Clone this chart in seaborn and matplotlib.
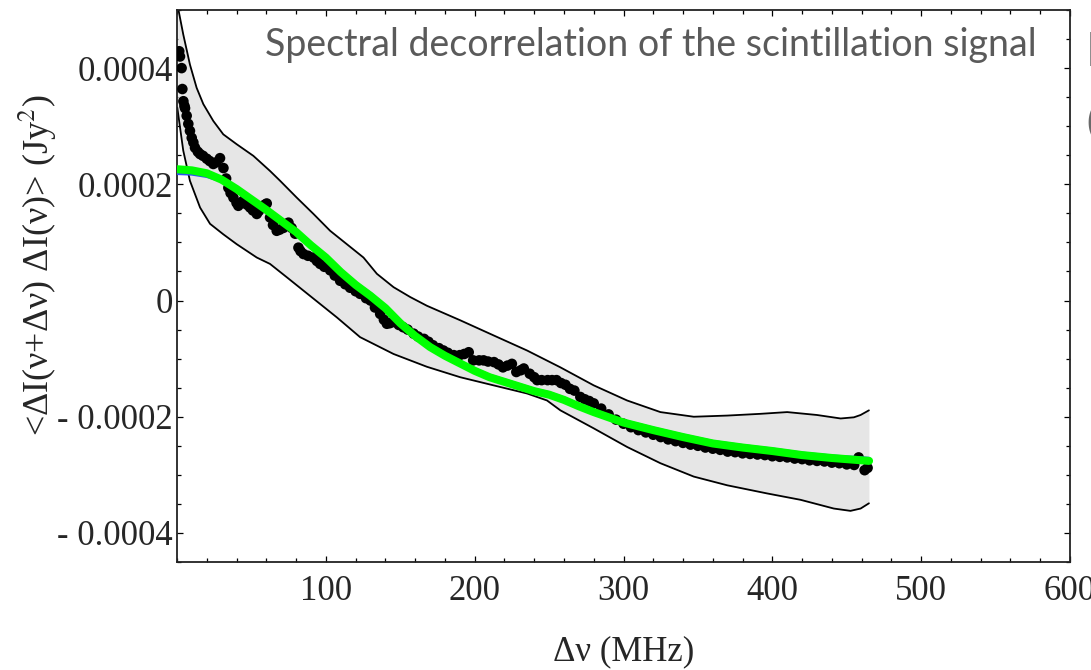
import numpy as np
import pandas as pd
import matplotlib
matplotlib.use("Agg")
import matplotlib.pyplot as plt
import seaborn as sns
from matplotlib.ticker import FixedLocator, MultipleLocator

# ---------------- data ----------------
dots_x = [1.5, 2.0, 3.1, 3.6, 4.3, 5.0, 5.4, 6.5, 7.6, 8.7, 9.9, 11, 12.1, 14, 15.5, 17.5, 20, 22,
          24.4, 26.5, 28.9, 31.2, 33, 34.5, 36, 37.9, 40, 41.2, 43, 44.6, 47, 49.1, 51, 53.6, 55, 57,
          59, 60.3, 62.5, 64.5, 67, 69, 71.5, 73, 74.9, 77, 79.4, 81.6, 83, 85, 88, 91.7, 94, 96.2,
          99, 102.9, 106, 109.6, 113, 116.3, 120, 123, 127, 130, 133, 136.5, 139, 141, 143, 145.5,
          149, 152, 155, 159, 162, 166, 169, 172, 176, 179, 182, 186, 190, 193, 196, 199, 203, 206,
          209, 213, 216, 219, 222, 225, 228, 231, 233, 237, 240, 242, 245, 249, 252, 255, 258, 261,
          264, 267, 271, 274, 277, 280, 285, 290, 295, 300, 305, 310, 315, 320, 325, 330, 335, 340,
          345, 350, 355, 360, 365, 370, 375, 380, 385, 390, 395, 400, 405, 410, 415, 420, 425, 430,
          435, 440, 445, 450, 455, 458, 462, 464]
dots_y_e6 = [429, 420, 400, 364, 343, 335, 331, 318, 304, 292, 280, 272, 263, 256, 252, 249, 244, 240,
             235, 238, 245, 228, 210, 194, 185, 177, 168, 163, 168, 172, 165, 160, 155, 149, 154, 160,
             165, 167, 143, 130, 120, 122, 125, 130, 134, 125, 115, 91, 85, 80, 77, 74, 68, 63,
             58, 52, 43, 34, 28, 22, 16, 11.5, 4, 0, -12, -23, -33, -40, -39, -37,
             -42, -46, -50, -57, -62, -66, -71, -77, -82, -86, -90, -94, -94, -92, -89, -103, -103, -103,
             -105, -106, -110, -115, -112, -109, -123, -120, -117, -126, -132, -137, -137, -137, -137, -137, -142, -145,
             -152, -155, -166, -170, -173, -177, -186, -196, -205, -212, -218, -223, -227, -231, -235, -239, -242, -245,
             -248, -250, -253, -255, -257, -260, -261, -263, -264, -265, -266, -268, -269, -270, -272, -273, -275, -276,
             -277, -279, -280, -282, -283, -270, -292, -288]

band_up_x = [0.5, 1.0, 4.2, 8.7, 13.2, 17.7, 24.4, 31.1, 40.1, 51.3, 62.5, 69.3, 80.5, 91.7, 102.9,
             114.1, 125.3, 134.3, 145.5, 156.7, 167.9, 190.3, 212.7, 235.2, 257.6, 280, 302.4, 324.8,
             347.2, 369.7, 392, 410, 430, 445.9, 454.8, 459.3, 464.9]
band_up_e6 = [520, 500, 458, 406, 366, 338, 309, 286, 269, 249, 223, 206, 177, 149, 120,
              97, 74, 46, 23, 6, -9, -34, -60, -86, -115, -146, -172, -192,
              -200, -198, -195, -192, -197, -203, -201, -197, -189]

band_lo_x = [0.2, 4.2, 8.7, 15.5, 22.2, 31.1, 40.1, 53.6, 62.5, 73.8, 85, 96.2, 107.4, 123, 145.5,
             167.9, 190.3, 212.7, 235.2, 248.6, 257.6, 280, 302.4, 324.8, 347.2, 369.7, 396.5, 419,
             441.3, 452.5, 459.3, 464.9]
band_lo_e6 = [332, 258, 206, 160, 132, 114, 97, 74, 63, 40, 17, -6, -29, -63, -92,
              -114, -132, -146, -160, -172, -189, -220, -252, -280, -303, -318, -332, -343,
              -358, -362, -358, -349]

fit_x = [0, 10, 20, 30, 40, 50, 60, 70, 80, 90, 100, 110, 120, 130, 140, 150, 160, 170, 180, 190,
         200, 210, 220, 230, 240, 250, 260, 270, 280, 300, 320, 340, 360, 380, 400, 420, 440, 465]
green_e6 = [226, 224, 219, 208, 192, 174, 156, 137, 118, 95, 74, 49, 27, 8, -13, -39, -61, -80, -95, -108,
            -121, -132, -140, -148, -156, -162, -171, -182, -192, -210, -223, -235, -246, -253, -259, -266, -271, -276]
blue_e6 = [219, 218, 214, 206, 192, 176, 158, 140, 121, 98, 77, 52, 30, 12, -10, -36, -58, -77, -92, -105,
           -118, -129, -137, -145, -153, -159, -168, -179, -189, -207, -220, -232, -243, -250, -256, -263, -268, -272]

x_ticks = [100, 200, 300, 400, 500, 600]
y_ticks = [-0.0004, -0.0002, 0, 0.0002, 0.0004]
y_ticklabels = ["- 0.0004", "- 0.0002", "0", "0.0002", "0.0004"]

title = "Spectral decorrelation of the scintillation signal"
xlabel = "\u0394\u03bd (MHz)"
ylabel = "<\u0394I(\u03bd+\u0394\u03bd) \u0394I(\u03bd)> (Jy$^2$)"

# ---------------- frames ----------------
s = 1e-6
dots = pd.DataFrame({"x": dots_x, "y": np.array(dots_y_e6) * s})
up = pd.DataFrame({"x": band_up_x, "y": np.array(band_up_e6) * s})
lo = pd.DataFrame({"x": band_lo_x, "y": np.array(band_lo_e6) * s})
fits = pd.DataFrame({"x": fit_x, "g": np.array(green_e6) * s, "b": np.array(blue_e6) * s})

sns.set_theme(style="ticks")
plt.rcParams["font.family"] = ["Liberation Serif", "DejaVu Serif"]
plt.rcParams["mathtext.fontset"] = "stix"

fig = plt.figure(figsize=(10.91, 6.70), dpi=100)
ax = fig.add_axes([177 / 1091, 1 - 562 / 670, (1070 - 177) / 1091, (562 - 10) / 670])

# band: fill between upper and lower edges on a shared x grid built from the two edge lists
grid = np.union1d(up["x"].values, lo["x"].values)
grid = grid[(grid >= 0.5) & (grid <= 464.9)]
ax.fill_between(grid, np.interp(grid, lo["x"], lo["y"]), np.interp(grid, up["x"], up["y"]),
                color="#e6e6e6", lw=0, zorder=1)
sns.lineplot(data=up, x="x", y="y", color="black", lw=1.3, ax=ax, zorder=2, sort=False)
sns.lineplot(data=lo, x="x", y="y", color="black", lw=1.3, ax=ax, zorder=2, sort=False)

sns.scatterplot(data=dots, x="x", y="y", color="black", s=58, edgecolor="none", ax=ax, zorder=3)

sns.lineplot(data=fits, x="x", y="b", color="#2a52f0", lw=2.6, ax=ax, zorder=4)
sns.lineplot(data=fits, x="x", y="g", color="#00ff00", lw=5.8, ax=ax, zorder=5)

ax.set_xlim(0, 600)
ax.set_ylim(-0.00045, 0.0005)

ax.xaxis.set_major_locator(FixedLocator(x_ticks))
ax.xaxis.set_minor_locator(MultipleLocator(20))
ax.yaxis.set_major_locator(FixedLocator(y_ticks))
ax.yaxis.set_minor_locator(MultipleLocator(0.00005))
ax.set_yticklabels(y_ticklabels)
ax.set_xticklabels([str(t) for t in x_ticks])

ax.tick_params(which="both", direction="in", top=True, right=True, color="black", width=0.9)
ax.tick_params(which="major", length=4.5, labelsize=25, pad=3)
ax.tick_params(which="minor", length=2.7)
ax.tick_params(axis="x", which="major", pad=9)
for sp in ax.spines.values():
    sp.set_linewidth(1.3)
    sp.set_color("#222222")

ax.set_xlabel(xlabel, fontsize=25, va="center")
ax.set_ylabel(ylabel, fontsize=26, va="center")
ax.xaxis.set_label_coords(0.5, (562 - 652) / 552)
ax.yaxis.set_label_coords((38 - 177) / 893, (562 - 265) / 552)

ax.text((651 - 177) / 893, 0.937, title, transform=ax.transAxes, ha="center", va="center",
        fontsize=27, color="#5a5a5a", family=["Lato", "DejaVu Sans"])

# clipped text at the right figure edge
fig.text(1087 / 1091, 1 - 50 / 670, "[", fontsize=26, color="#6a6a6a", ha="left", va="center",
         family=["Lato", "DejaVu Sans"])
fig.text(1086 / 1091, 1 - 124 / 670, "(", fontsize=26, color="#6a6a6a", ha="left", va="center",
         family=["Lato", "DejaVu Sans"])

fig.savefig("out.png", dpi=100)
